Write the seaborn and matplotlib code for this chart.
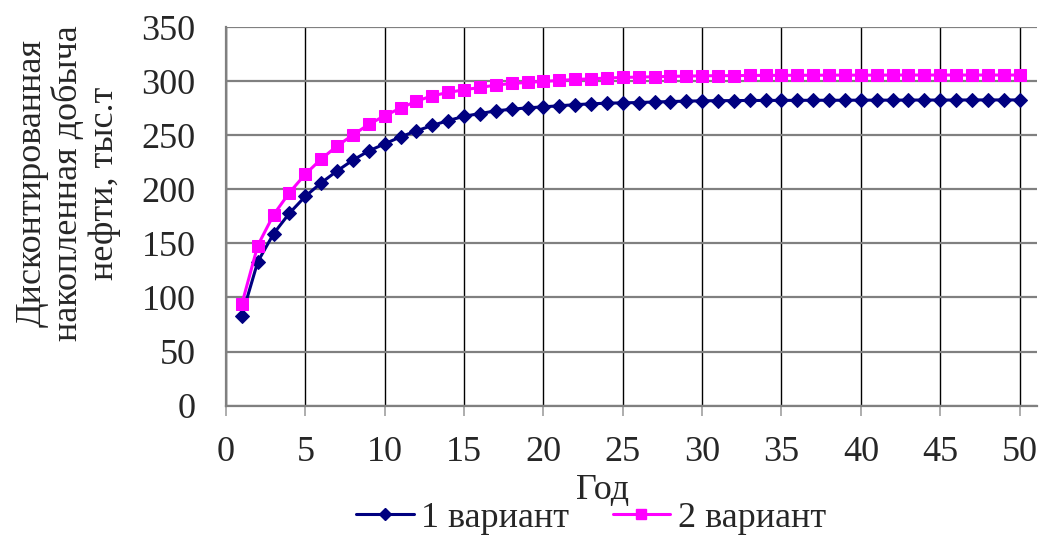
import matplotlib
matplotlib.use("Agg")
import matplotlib.pyplot as plt
import seaborn as sns
import pandas as pd
from matplotlib.lines import Line2D

years = list(range(1, 51))
variant1 = [83, 133, 159, 178, 193.5, 206, 217, 227, 235.5, 242, 248.5, 254, 259, 263.5, 267.5,
            270, 272.5, 274, 275.3, 276.2, 277.2, 278.2, 279, 279.6, 279.9, 280.2, 280.7, 281.1, 281.5, 281.8,
            281.9, 282, 282.1, 282.1, 282.2, 282.2, 282.3, 282.3, 282.3, 282.4, 282.4, 282.4, 282.5, 282.5, 282.5,
            282.5, 282.6, 282.6, 282.6, 282.6]
variant2 = [94, 148, 176.5, 197, 214, 228, 240, 250.3, 260, 268, 275, 281.5, 286.4, 289.5, 292,
            294.1, 296.3, 297.8, 298.8, 299.7, 300.6, 301.5, 302.1, 302.8, 303.4, 303.7, 304, 304.4, 304.6, 304.9,
            305, 305.1, 305.2, 305.3, 305.3, 305.4, 305.4, 305.5, 305.5, 305.5, 305.5, 305.6, 305.6, 305.6, 305.6,
            305.6, 305.6, 305.6, 305.6, 305.6]
series_names = ["1 вариант", "2 вариант"]
x_label = "Год"
y_label = "Дисконтированная\nнакопленная добыча\nнефти, тыс.т"

sns.set_style("white")
plt.rcParams['font.family'] = ['Liberation Serif', 'DejaVu Serif']

W, H = 1046, 539
fig = plt.figure(figsize=(W / 100, H / 100), dpi=100)
L, R, T, B = 226, 1037, 27, 405.7
ax = fig.add_axes([L / W, 1 - B / H, (R - L) / W, (B - T) / H])

df = pd.DataFrame({
    "year": years * 2,
    "value": variant1 + variant2,
    "series": [series_names[0]] * len(years) + [series_names[1]] * len(years),
})
palette = {series_names[0]: "#000080", series_names[1]: "#FF00FF"}
markers = {series_names[0]: "D", series_names[1]: "s"}
for name in series_names:
    sub = df[df["series"] == name]
    sns.lineplot(data=sub, x="year", y="value", ax=ax, color=palette[name],
                 marker=markers[name], markersize=7.5 if name == series_names[0] else 8.5,
                 markeredgecolor=palette[name], linewidth=2.2, legend=False, zorder=3)

ax.set_xlim(0, 51.1)
ax.set_ylim(0, 350)
ax.set_xticks(range(0, 51, 5))
ax.set_yticks(range(0, 351, 50))
ax.xaxis.grid(True, color="#000000", linewidth=1.0, zorder=0)
ax.yaxis.grid(True, color="#808080", linewidth=1.6, zorder=0)
ax.set_axisbelow(True)
for s in ["top", "right"]:
    ax.spines[s].set_visible(False)
for s in ["left", "bottom"]:
    ax.spines[s].set_color("#808080")
    ax.spines[s].set_linewidth(1.6)
ax.tick_params(axis="x", length=7, width=1.2, color="#a0a0a0", pad=15, labelsize=26, direction="out", bottom=True)
ax.tick_params(axis="y", length=0, pad=22, labelsize=26, left=True)

ax.set_xlabel("")
ax.set_ylabel("")
fig.text(603 / W, 1 - 490 / H, x_label, ha="center", va="center", fontsize=26)
fig.text(68 / W, 1 - 183 / H, y_label, ha="center", va="center", rotation=90,
         fontsize=26, multialignment="center", linespacing=1.13)

handles = [
    Line2D([], [], color="#000080", marker="D", markersize=6, linewidth=2.2),
    Line2D([], [], color="#FF00FF", marker="s", markersize=7, linewidth=2.2),
]
fig.legend(handles, series_names, loc="center", bbox_to_anchor=(591 / W, 1 - 518 / H), ncol=2,
           frameon=False, fontsize=26, handlelength=1.6, handletextpad=0.2, columnspacing=1.2,
           borderpad=0, borderaxespad=0)

fig.savefig("out.png", dpi=100)
